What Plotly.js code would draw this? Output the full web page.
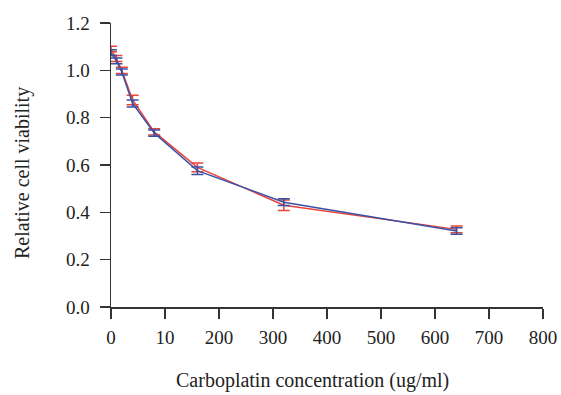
<!DOCTYPE html>
<html>
<head>
<meta charset="utf-8">
<script src="https://cdn.plot.ly/plotly-3.0.1.min.js"></script>
<style>html,body{margin:0;padding:0;background:#fff;}#chart{width:561px;height:395px;}</style>
</head>
<body>
<div id="chart"></div>
<script>
// Concentrations (ug/ml)
const concentrations = [0, 10, 20, 40, 80, 160, 320, 640];
// Series 1 (red)
const redValues = [1.09, 1.05, 1.00, 0.875, 0.74, 0.59, 0.43, 0.328];
const redErrors = [0.012, 0.013, 0.013, 0.02, 0.013, 0.018, 0.022, 0.014];
// Series 2 (blue)
const blueValues = [1.075, 1.04, 0.993, 0.86, 0.735, 0.576, 0.443, 0.321];
const blueErrors = [0.012, 0.012, 0.013, 0.015, 0.013, 0.016, 0.014, 0.014];
// Axis ticks (labels as printed in the original)
const xTickVals = [0, 100, 200, 300, 400, 500, 600, 700, 800];
const xTickText = ["0", "10", "200", "300", "400", "500", "600", "700", "800"];
const yTickVals = [0, 0.2, 0.4, 0.6, 0.8, 1.0, 1.2];
const yTickText = ["0.0", "0.2", "0.4", "0.6", "0.8", "1.0", "1.2"];
const xTitle = 'Carboplatin concentration (ug/ml)';
const yTitle = 'Relative cell viability';

const RED = '#e8443a';
const BLUE = '#3a52a6';
const FONT = '"Liberation Serif", "DejaVu Serif", serif';

function series(y, err, color) {
  return {
    x: concentrations, y: y, type: 'scatter', mode: 'lines',
    line: {color: color, width: 1.5},
    error_y: {type: 'data', array: err, visible: true, color: color, thickness: 1.5, width: 6},
    cliponaxis: false, showlegend: false, hoverinfo: 'skip'
  };
}

const data = [series(redValues, redErrors, RED), series(blueValues, blueErrors, BLUE)];

const axisCommon = {
  showline: true, linecolor: '#333', linewidth: 1.5,
  ticks: 'outside', ticklen: 10, tickwidth: 1.5, tickcolor: '#333',
  showgrid: false, zeroline: false, fixedrange: true,
  tickfont: {family: FONT, size: 19, color: '#222'}
};

const layout = {
  width: 561, height: 395,
  margin: {l: 111, r: 18, t: 23, b: 88},
  paper_bgcolor: '#fff', plot_bgcolor: '#fff',
  font: {family: FONT, color: '#222'},
  xaxis: Object.assign({}, axisCommon, {
    range: [0, 800], tickmode: 'array', tickvals: xTickVals, ticktext: xTickText,
    ticklabelstandoff: 3
  }),
  yaxis: Object.assign({}, axisCommon, {
    range: [0, 1.2], tickmode: 'array', tickvals: yTickVals, ticktext: yTickText,
    ticklabelstandoff: 6
  }),
  annotations: [
    {text: xTitle, xref: 'paper', yref: 'paper', x: (312 - 111) / 432, y: (307 - 380) / 284,
     xanchor: 'center', yanchor: 'middle', showarrow: false,
     font: {family: FONT, size: 20, color: '#222'}},
    {text: yTitle, xref: 'paper', yref: 'paper', x: (22 - 111) / 432, y: (307 - 173) / 284,
     xanchor: 'center', yanchor: 'middle', showarrow: false, textangle: -90,
     font: {family: FONT, size: 20, color: '#222'}}
  ]
};

Plotly.newPlot('chart', data, layout, {displayModeBar: false, staticPlot: true});
</script>
</body>
</html>
